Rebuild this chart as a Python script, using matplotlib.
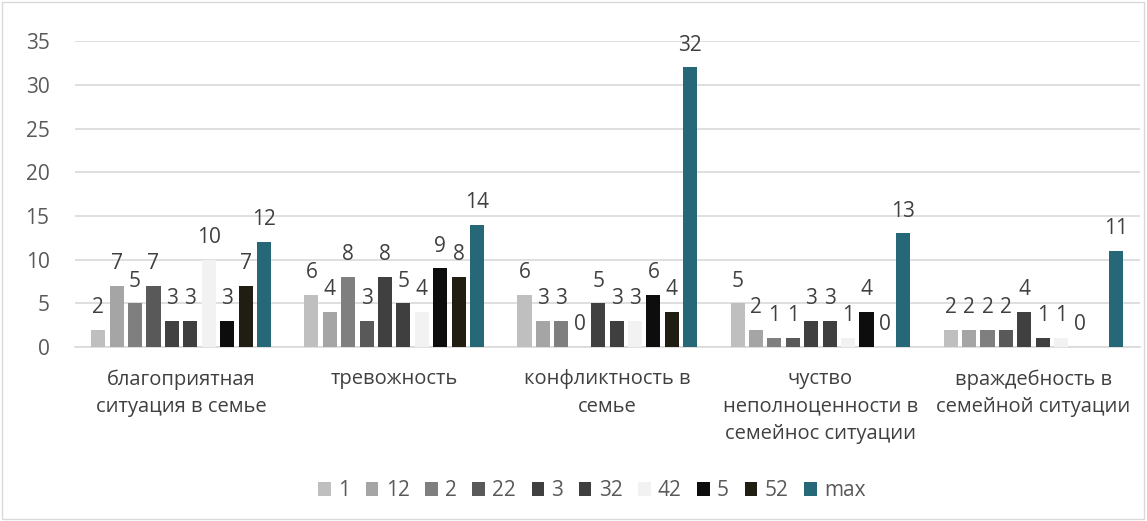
import numpy as np
import matplotlib.pyplot as plt
from matplotlib.patches import Rectangle

categories = ['благоприятная\nситуация в семье', 'тревожность', 'конфликтность в\nсемье',
              'чуство\nнеполноценности в\nсемейнос ситуации', 'враждебность в\nсемейной ситуации']
series = ['1', '12', '2', '22', '3', '32', '42', '5', '52', 'max']
values = {
    '1':   [2, 6, 6, 5, 2],
    '12':  [7, 4, 3, 2, 2],
    '2':   [5, 8, 3, 1, 2],
    '22':  [7, 3, 0, 1, 2],
    '3':   [3, 8, 5, 3, 4],
    '32':  [3, 5, 3, 3, 1],
    '42':  [10, 4, 3, 1, 1],
    '5':   [3, 9, 6, 4, 0],
    '52':  [7, 8, 4, 0, np.nan],
    'max': [12, 14, 32, 13, 11],
}
colors = ['#bfbfbf', '#a5a5a5', '#7f7f7f', '#595959', '#404040', '#3f3f3f',
          '#f2f2f2', '#0d0d0d', '#201d12', '#266778']

plt.rcParams['font.family'] = ['Open Sans', 'DejaVu Sans']
fig = plt.figure(figsize=(11.47, 5.21), dpi=100)
ax = fig.add_axes([0.065, 0.334, 0.929, 0.587])

x = np.arange(len(categories))
slot = 0.0864
width = 0.066
for i, name in enumerate(series):
    pos = x + (i - 4.5) * slot
    vals = np.array(values[name], dtype=float)
    ax.bar(pos, vals, width, color=colors[i], label=name, zorder=3)
    for p, v in zip(pos, vals):
        if np.isnan(v):
            continue
        ax.text(p, v + 1.35, f'{int(v)}', ha='center', va='bottom',
                fontsize=15, color='#404040', zorder=4)

ax.set_ylim(0, 35)
ax.set_xlim(-0.5, len(categories) - 0.5)
ax.set_yticks(range(0, 36, 5))
ax.yaxis.grid(True, color='#d9d9d9', linewidth=1.2, zorder=0)
ax.tick_params(axis='y', length=0, labelsize=15, labelcolor='#595959', pad=18)
ax.tick_params(axis='x', length=0, labelsize=14.5, labelcolor='#404040', pad=16)
ax.set_xticks(x)
ax.set_xticklabels(categories, linespacing=1.5)
for s in ['top', 'right', 'left']:
    ax.spines[s].set_visible(False)
ax.spines['bottom'].set_color('#d9d9d9')
ax.spines['bottom'].set_linewidth(1.2)

fig.legend(loc='center', bbox_to_anchor=(0.516, 0.058), ncol=10, frameon=False,
           fontsize=15, handlelength=0.6, handleheight=0.6, handletextpad=0.35,
           columnspacing=0.75, labelcolor='#595959')

fig.patches.append(Rectangle((0.002, 0.004), 0.995, 0.992, transform=fig.transFigure,
                             fill=False, edgecolor='#d9d9d9', linewidth=1))

fig.savefig('out.png', dpi=100)
